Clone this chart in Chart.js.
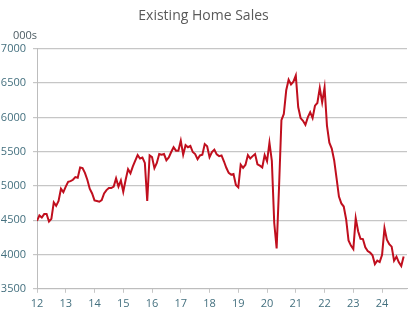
<!DOCTYPE html>
<html>
<head>
<meta charset="utf-8">
<script src="https://cdn.jsdelivr.net/npm/chart.js@4"></script>
<style>
  html, body { margin: 0; padding: 0; background: #fff; }
  #wrap { width: 416px; height: 332px; position: relative; }
</style>
</head>
<body>
<div id="wrap"><canvas id="salesChart" width="416" height="332"></canvas></div>
<script>
"use strict";

// existing home sales, 000s (SAAR), monthly from Jan 2012
var sales_2012 = [4490, 4570, 4540, 4590, 4590, 4480, 4520, 4760, 4710, 4780, 4960, 4910];
var sales_2013 = [4990, 5060, 5070, 5090, 5130, 5120, 5270, 5260, 5190, 5090, 4960, 4890];
var sales_2014 = [4790, 4780, 4770, 4795, 4890, 4940, 4970, 4970, 4990, 5110, 4990, 5080];
var sales_2015 = [4915, 5090, 5245, 5185, 5285, 5370, 5450, 5400, 5415, 5335, 4780, 5445];
var sales_2016 = [5420, 5260, 5335, 5465, 5455, 5465, 5375, 5415, 5495, 5565, 5515, 5515];
var sales_2017 = [5660, 5455, 5595, 5565, 5585, 5495, 5465, 5390, 5445, 5455, 5610, 5580];
var sales_2018 = [5420, 5495, 5530, 5460, 5435, 5445, 5360, 5265, 5190, 5165, 5175, 5015];
var sales_2019 = [4980, 5310, 5265, 5310, 5450, 5400, 5435, 5465, 5315, 5295, 5270, 5450];
var sales_2020 = [5360, 5630, 5365, 4460, 4090, 4980, 5960, 6050, 6395, 6550, 6480, 6520];
var sales_2021 = [6610, 6150, 5990, 5950, 5890, 6000, 6075, 5990, 6170, 6210, 6430, 6220];
var sales_2022 = [6435, 5880, 5630, 5545, 5375, 5115, 4845, 4745, 4700, 4515, 4205, 4130];
var sales_2023 = [4080, 4530, 4340, 4230, 4225, 4105, 4050, 4028, 3988, 3860, 3910, 3890];
var sales_2024 = [3995, 4385, 4215, 4150, 4115, 3910, 3968, 3885, 3832, 3972];

var years = ["12", "13", "14", "15", "16", "17", "18", "19", "20", "21", "22", "23", "24"];
var y_ticks = [3500, 4000, 4500, 5000, 5500, 6000, 6500, 7000];

var all_years = [sales_2012, sales_2013, sales_2014, sales_2015, sales_2016, sales_2017,
    sales_2018, sales_2019, sales_2020, sales_2021, sales_2022, sales_2023, sales_2024];

var points = [];
all_years.forEach(function(row) {
    row.forEach(function(v) {
        points.push({x: points.length, y: v});
    });
});

var tick_color = "#44707f";
var grid_color = "#c6c6c6";

// "000s" unit note above the y axis
var unitLabel = {
    id: "unitLabel",
    afterDraw: function(chart) {
        var ctx = chart.ctx;
        ctx.save();
        ctx.font = "11px 'Open Sans'";
        ctx.fillStyle = "#4d5c63";
        ctx.textAlign = "left";
        ctx.textBaseline = "middle";
        ctx.fillText("000s", 13, chart.chartArea.top - 13);
        ctx.restore();
    }
};

var ctx = document.getElementById("salesChart").getContext("2d");
var chart = new Chart(ctx, {
    type: "line",
    data: {
        datasets: [{
            label: "Existing Home Sales",
            data: points,
            borderColor: "#c00f1e",
            borderWidth: 2,
            pointRadius: 0,
            fill: false,
            tension: 0
        }]
    },
    options: {
        responsive: false,
        animation: false,
        layout: {padding: {left: 0, right: 9, top: 0, bottom: 18}},
        plugins: {
            legend: {display: false},
            tooltip: {enabled: false},
            title: {
                display: true,
                text: "Existing Home Sales",
                color: "#595959",
                font: {family: "'Open Sans'", size: 14, weight: "normal"},
                padding: {top: 8, bottom: 24}
            }
        },
        scales: {
            x: {
                type: "linear",
                min: 0,
                max: 154.4,
                afterBuildTicks: function(scale) {
                    scale.ticks = years.map(function(y, i) { return {value: i * 12}; });
                },
                ticks: {
                    color: tick_color,
                    font: {family: "'Open Sans'", size: 11},
                    padding: 4,
                    maxRotation: 0,
                    autoSkip: false,
                    callback: function(value) { return years[Math.round(value / 12)]; }
                },
                grid: {drawOnChartArea: false, drawTicks: true, tickLength: 4, color: grid_color},
                border: {display: true, color: "#bdbdbd", width: 1}
            },
            y: {
                min: 3500,
                max: 7000,
                afterBuildTicks: function(scale) {
                    scale.ticks = y_ticks.map(function(v) { return {value: v}; });
                },
                afterFit: function(scale) { scale.width = 37; },
                ticks: {
                    color: tick_color,
                    font: {family: "'Open Sans'", size: 11},
                    padding: 7,
                    callback: function(value) { return String(value); }
                },
                grid: {color: grid_color, lineWidth: 1.2, tickLength: 4},
                border: {display: true, color: "#bdbdbd", width: 1}
            }
        }
    },
    plugins: [unitLabel]
});
</script>
</body>
</html>
